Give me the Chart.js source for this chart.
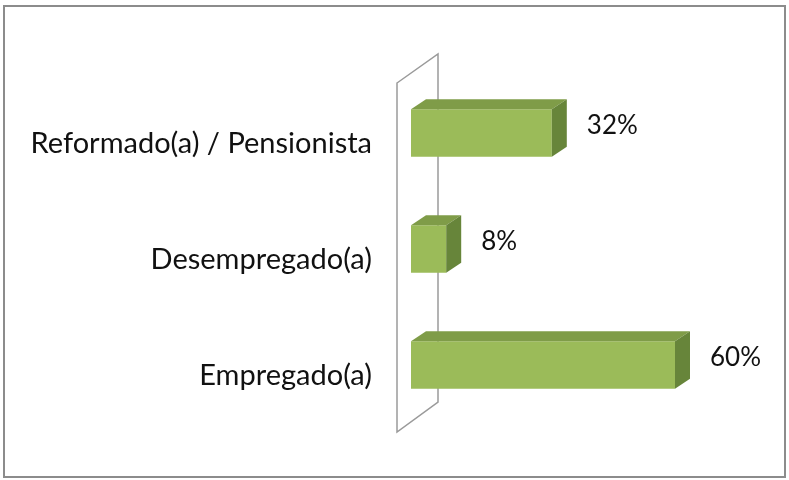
<!DOCTYPE html>
<html>
<head>
<meta charset="utf-8">
<script src="https://cdn.jsdelivr.net/npm/chart.js@4"></script>
<style>
html,body{margin:0;padding:0;background:#fff;}
#wrap{position:relative;width:789px;height:480px;}
</style>
</head>
<body>
<div id="wrap"><canvas id="c" width="789" height="480"></canvas></div>
<script>
const categories = ['Reformado(a) / Pensionista', 'Desempregado(a)', 'Empregado(a)'];
const values = [32, 8, 60];
const valueLabels = ['32%', '8%', '60%'];

const FONT = 'Lato, "Open Sans", sans-serif';
const DX = 15, DY = 10;

const threeD = {
  id: 'threeD',
  beforeDraw(chart) {
    const ctx = chart.ctx;
    ctx.save();
    ctx.strokeStyle = '#8c8c8c';
    ctx.lineWidth = 2;
    ctx.strokeRect(4, 6, 781, 471);
    ctx.restore();
  },
  beforeDatasetsDraw(chart) {
    const ctx = chart.ctx;
    const ca = chart.chartArea;
    const x0 = chart.scales.x.getPixelForValue(0);
    ctx.save();
    ctx.strokeStyle = '#9a9a9a';
    ctx.lineWidth = 1.5;
    ctx.fillStyle = '#ffffff';
    ctx.beginPath();
    ctx.moveTo(x0 - 14, ca.top + 8);
    ctx.lineTo(x0 + 27, ca.top - 21);
    ctx.lineTo(x0 + 27, ca.bottom - 21);
    ctx.lineTo(x0 - 14, ca.bottom + 9);
    ctx.closePath();
    ctx.fill();
    ctx.stroke();
    ctx.restore();
  },
  afterDatasetsDraw(chart) {
    const ctx = chart.ctx;
    const meta = chart.getDatasetMeta(0);
    ctx.save();
    meta.data.forEach((bar, i) => {
      const top = bar.y - bar.height / 2;
      const bottom = bar.y + bar.height / 2;
      const b = bar.base, x = bar.x;
      ctx.fillStyle = '#7f9c48';
      ctx.beginPath();
      ctx.moveTo(b, top);
      ctx.lineTo(b + DX, top - DY);
      ctx.lineTo(x + DX, top - DY);
      ctx.lineTo(x, top);
      ctx.closePath();
      ctx.fill();
      ctx.fillStyle = '#67853a';
      ctx.beginPath();
      ctx.moveTo(x, top);
      ctx.lineTo(x + DX, top - DY);
      ctx.lineTo(x + DX, bottom - DY);
      ctx.lineTo(x, bottom);
      ctx.closePath();
      ctx.fill();
      ctx.fillStyle = '#111';
      ctx.font = '26px ' + FONT;
      ctx.textAlign = 'left';
      ctx.textBaseline = 'middle';
      ctx.fillText(valueLabels[i], x + DX + 20, bar.y - 7);
    });
    ctx.restore();
  }
};

new Chart(document.getElementById('c'), {
  type: 'bar',
  data: {
    labels: categories,
    datasets: [{
      data: values,
      backgroundColor: '#9bbb59',
      borderWidth: 0,
      categoryPercentage: 1,
      barPercentage: 0.41
    }]
  },
  options: {
    indexAxis: 'y',
    responsive: false,
    animation: false,
    devicePixelRatio: 1,
    layout: { padding: { left: 0, right: 70, top: 75, bottom: 57 } },
    plugins: { legend: { display: false }, tooltip: { enabled: false } },
    scales: {
      x: {
        min: 0, max: 70,
        display: false
      },
      y: {
        grid: { display: false, drawTicks: false },
        border: { display: false },
        ticks: {
          color: '#111',
          font: { family: FONT, size: 29 },
          padding: 39,
          labelOffset: 11
        },
        afterFit(scale) { scale.width = 411; }
      }
    }
  },
  plugins: [threeD]
});
</script>
</body>
</html>
